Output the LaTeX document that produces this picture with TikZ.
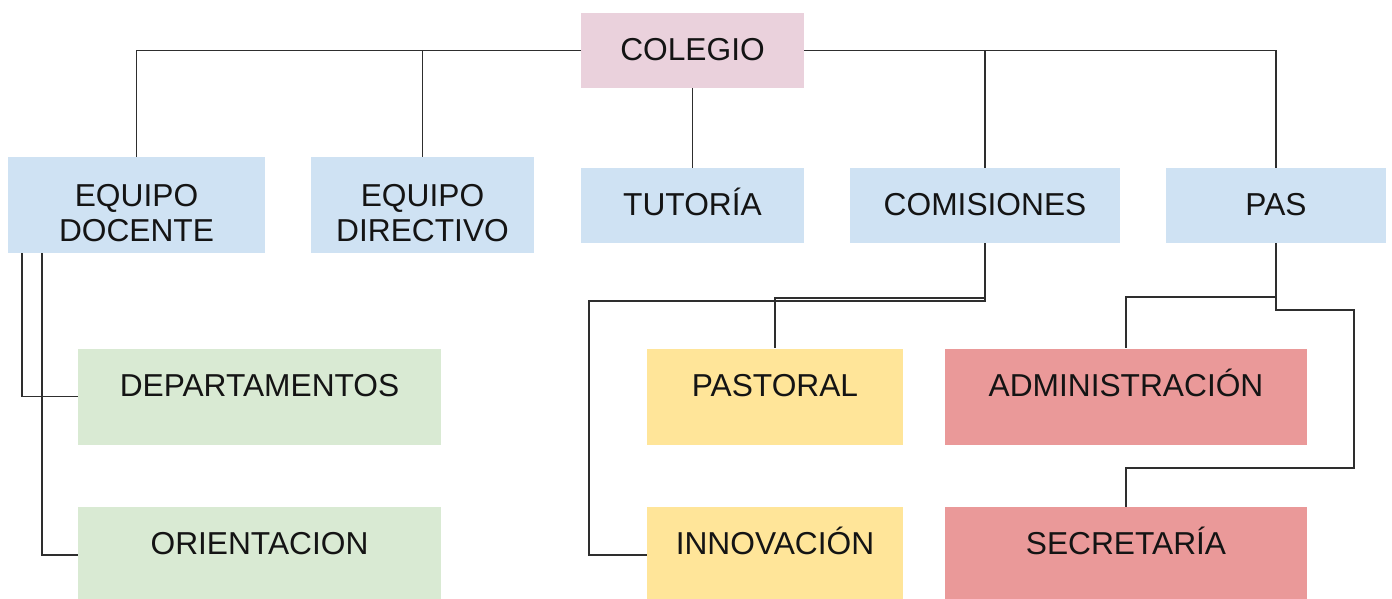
\documentclass[tikz,border=0pt]{standalone}
\usepackage{fontspec}
\setmainfont{Liberation Sans}
\usepackage{xcolor}
\usepackage{tikz}
\definecolor{rosa}{HTML}{EAD1DC}
\definecolor{azul}{HTML}{CFE2F3}
\definecolor{verde}{HTML}{D9EAD3}
\definecolor{amarillo}{HTML}{FFE599}
\definecolor{rojo}{HTML}{EA9999}
\definecolor{texto}{HTML}{141414}
\definecolor{linea}{HTML}{2E2E2E}

\begin{document}
\begin{tikzpicture}[x=1pt,y=1pt,
		caja/.style={inner sep=0pt,text height=23pt,text depth=4pt,text=texto,font=\fontsize{31.7}{35}\selectfont},
		arriba/.style={caja,minimum height=75pt},
		doble/.style={caja,minimum height=96pt,text depth=21pt},
		abajo/.style={caja,minimum height=96pt,text depth=24pt},
		enlace/.style={draw=linea,line width=1.6pt}]
		\useasboundingbox (0,0) rectangle (1392,-598);
		\node[arriba,fill=rosa,minimum width=223pt] (col) at (692.5,-50.5) {COLEGIO};
		\node[doble,fill=azul,minimum width=257pt] (ed) at (136.5,-205) {\begin{tabular}[t]{@{}c@{}}EQUIPO\\DOCENTE\end{tabular}};
		\node[doble,fill=azul,minimum width=223pt] (edir) at (422.5,-205) {\begin{tabular}[t]{@{}c@{}}EQUIPO\\DIRECTIVO\end{tabular}};
		\node[arriba,fill=azul,minimum width=223pt] (tut) at (692.5,-205.5) {TUTORÍA};
		\node[arriba,fill=azul,minimum width=270pt] (com) at (985,-205.5) {COMISIONES};
		\node[arriba,fill=azul,minimum width=220pt] (pas) at (1276,-205.5) {PAS};
		\node[abajo,fill=verde,minimum width=363pt] (dep) at (259.5,-396.5) {DEPARTAMENTOS};
		\node[abajo,fill=verde,minimum width=363pt] (ori) at (259.5,-555) {ORIENTACION};
		\node[abajo,fill=amarillo,minimum width=256pt] (pst) at (775,-396.5) {PASTORAL};
		\node[abajo,fill=amarillo,minimum width=256pt] (inn) at (775,-555) {INNOVACIÓN};
		\node[abajo,fill=rojo,minimum width=362pt] (adm) at (1126,-396.5) {ADMINISTRACIÓN};
		\node[abajo,fill=rojo,minimum width=362pt] (sec) at (1126,-555) {SECRETARÍA};
		\draw[enlace] (col.west) -| (ed.north);
		\draw[enlace] (col.west) -| (edir.north);
		\draw[enlace] (col) -- (tut);
		\draw[enlace] (col.east) -| (com.north);
		\draw[enlace] (col.east) -| (pas.north);
		\draw[enlace] ([xshift=14pt]ed.south west) |- (dep.west);
		\draw[enlace] ([xshift=34pt]ed.south west) |- (ori.west);
		\draw[enlace] (com.south) -- ++(0,-55) -| (pst.north);
		\draw[enlace] (inn.west) -- ++(-58,0) |- ([yshift=-58pt]com.south) -- (com.south);
		\draw[enlace] (pas.south) -- ++(0,-54) -| (adm.north);
		\draw[enlace] (sec.north) -- ++(0,39) -| ++(228,158) -| (pas.south);
\end{tikzpicture}
\end{document}
